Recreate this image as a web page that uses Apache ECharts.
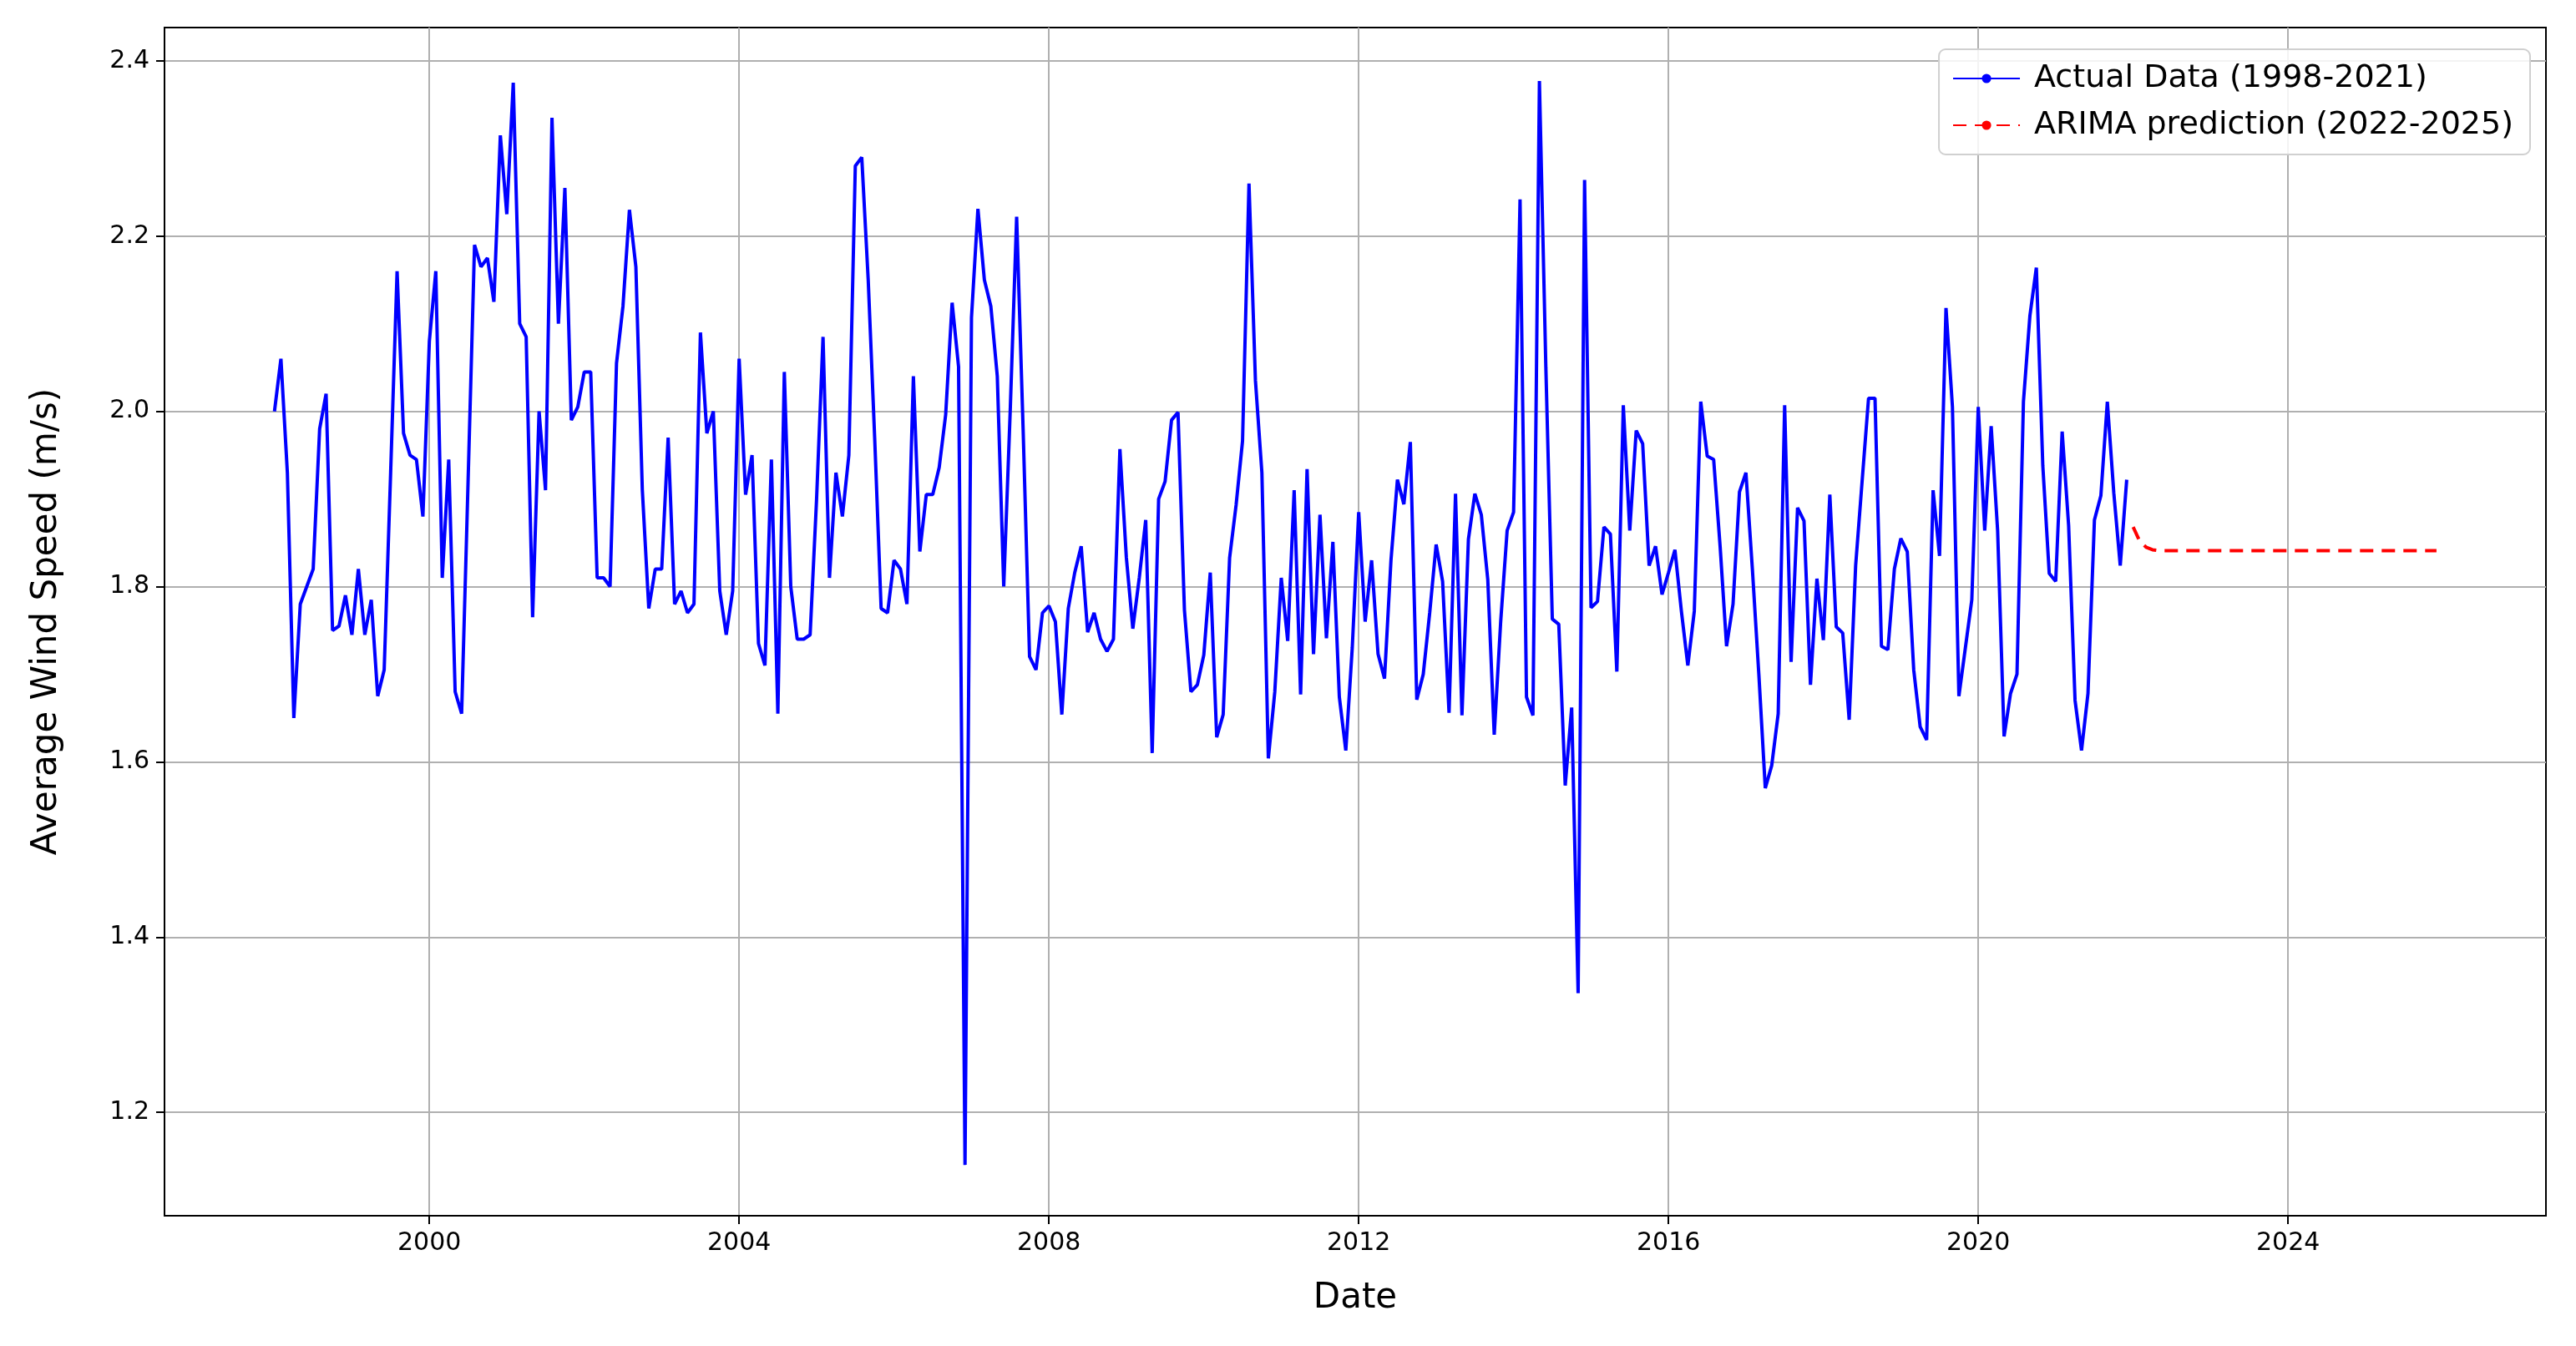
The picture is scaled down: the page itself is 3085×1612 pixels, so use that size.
<!DOCTYPE html>
<html><head><meta charset="utf-8">
<script src="https://cdn.jsdelivr.net/npm/echarts@6/dist/echarts.min.js"></script>
<style>html,body{margin:0;padding:0;background:#fff}#c{width:3085px;height:1612px}</style>
</head><body><div id="c"></div>
<script>
const startYear = 1998;
const actualValues = [
2.00,2.06,1.93,1.65,1.78,1.80,1.82,1.98,2.02,1.75,1.755,1.79,
1.745,1.82,1.745,1.785,1.675,1.705,1.93,2.16,1.975,1.95,1.945,1.88,
2.08,2.16,1.81,1.945,1.68,1.655,1.92,2.19,2.165,2.175,2.125,2.315,
2.225,2.375,2.10,2.085,1.765,2.00,1.91,2.335,2.10,2.255,1.99,2.005,
2.045,2.045,1.81,1.81,1.80,2.055,2.12,2.23,2.165,1.91,1.775,1.82,
1.82,1.97,1.78,1.795,1.77,1.78,2.09,1.975,2.00,1.795,1.745,1.795,
2.06,1.905,1.95,1.735,1.71,1.945,1.655,2.045,1.80,1.74,1.74,1.745,
1.90,2.085,1.81,1.93,1.88,1.95,2.28,2.29,2.15,1.97,1.775,1.77,
1.83,1.82,1.78,2.04,1.84,1.905,1.905,1.936,1.996,2.124,2.051,1.14,
2.107,2.231,2.15,2.12,2.04,1.80,2.00,2.222,1.98,1.72,1.705,1.77,
1.778,1.76,1.654,1.775,1.816,1.846,1.748,1.77,1.74,1.726,1.74,1.957,
1.833,1.752,1.81,1.876,1.61,1.90,1.92,1.99,1.999,1.773,1.68,1.688,
1.722,1.816,1.628,1.654,1.833,1.893,1.966,2.26,2.035,1.93,1.604,1.68,
1.81,1.738,1.91,1.677,1.934,1.723,1.882,1.741,1.851,1.674,1.613,1.73,
1.885,1.76,1.83,1.723,1.695,1.83,1.922,1.894,1.965,1.671,1.70,1.77,
1.848,1.806,1.656,1.906,1.653,1.854,1.906,1.882,1.808,1.631,1.76,1.864,
1.885,2.242,1.674,1.653,2.377,2.05,1.763,1.757,1.573,1.662,1.336,2.264,
1.776,1.783,1.868,1.86,1.703,2.007,1.864,1.978,1.963,1.824,1.846,1.791,
1.816,1.842,1.772,1.71,1.772,2.011,1.949,1.945,1.846,1.732,1.78,1.908,
1.93,1.82,1.70,1.57,1.596,1.655,2.007,1.714,1.89,1.875,1.688,1.809,
1.739,1.905,1.754,1.747,1.648,1.824,1.92,2.015,2.015,1.732,1.728,1.82,
1.855,1.84,1.705,1.64,1.625,1.91,1.835,2.118,2.005,1.675,1.73,1.785,
2.005,1.864,1.983,1.864,1.629,1.678,1.70,2.011,2.109,2.164,1.938,1.815,
1.806,1.977,1.87,1.67,1.613,1.678,1.876,1.904,2.011,1.907,1.824,1.922
];
const predStartYear = 2022;
const predValues = [
1.868,1.852,1.845,1.842,1.841,1.841,1.841,1.841,1.841,1.841,1.841,1.841,
1.841,1.841,1.841,1.841,1.841,1.841,1.841,1.841,1.841,1.841,1.841,1.841,
1.841,1.841,1.841,1.841,1.841,1.841,1.841,1.841,1.841,1.841,1.841,1.841,
1.841,1.841,1.841,1.841,1.841,1.841,1.841,1.841,1.841,1.841,1.841,1.841
];
const xTicks = [2000,2004,2008,2012,2016,2020,2024];
const yTicks = [1.2,1.4,1.6,1.8,2.0,2.2,2.4];

const actual = actualValues.map((v,i)=>[startYear+i/12, v]);
const pred = predValues.map((v,i)=>[predStartYear+i/12, v]);
const font = 'DejaVu Sans';
const chart = echarts.init(document.getElementById('c'));
chart.setOption({
  animation:false,
  backgroundColor:'#fff',
  grid:{left:197,right:36,top:33,bottom:156,show:true,borderColor:'#000',borderWidth:2,containLabel:false},
  legend:{
    right:55,top:59,orient:'vertical',itemWidth:80,itemHeight:14,itemGap:18,
    padding:[16,20,16,16],backgroundColor:'rgba(255,255,255,0.85)',borderColor:'#d0d0d0',borderWidth:2,borderRadius:8,
    textStyle:{fontFamily:font,fontSize:38,color:'#000',padding:[0,0,0,12]},
    data:['Actual Data (1998-2021)','ARIMA prediction (2022-2025)']
  },
  xAxis:{
    type:'value',min:1996.58,max:2027.33,
    name:'Date',nameLocation:'middle',nameGap:78,
    nameTextStyle:{fontFamily:font,fontSize:42,color:'#000'},
    axisLine:{show:true,lineStyle:{color:'#000',width:2}},
    axisTick:{show:true,length:10,lineStyle:{color:'#000',width:2},customValues:xTicks},
    axisLabel:{fontFamily:font,fontSize:30,color:'#000',margin:18,customValues:xTicks,formatter:v=>String(Math.round(v))},
    splitLine:{show:true,lineStyle:{color:'#b0b0b0',width:2}}
  },
  yAxis:{
    type:'value',min:1.082,max:2.438,
    name:'Average Wind Speed (m/s)',nameLocation:'middle',nameGap:120,
    nameTextStyle:{fontFamily:font,fontSize:42,color:'#000'},
    axisLine:{show:true,lineStyle:{color:'#000',width:2}},
    axisTick:{show:true,length:10,lineStyle:{color:'#000',width:2},customValues:yTicks},
    axisLabel:{fontFamily:font,fontSize:30,color:'#000',margin:18,customValues:yTicks,formatter:v=>v.toFixed(1)},
    splitLine:{show:true,lineStyle:{color:'#b0b0b0',width:2}}
  },
  series:[
    {name:'Actual Data (1998-2021)',type:'line',data:actual,symbol:'none',lineStyle:{color:'#0000ff',width:4},itemStyle:{color:'#0000ff'}},
    {name:'ARIMA prediction (2022-2025)',type:'line',data:pred,symbol:'none',lineStyle:{color:'#ff0000',width:4,type:[16,10]},itemStyle:{color:'#ff0000'}}
  ]
});
</script></body></html>
